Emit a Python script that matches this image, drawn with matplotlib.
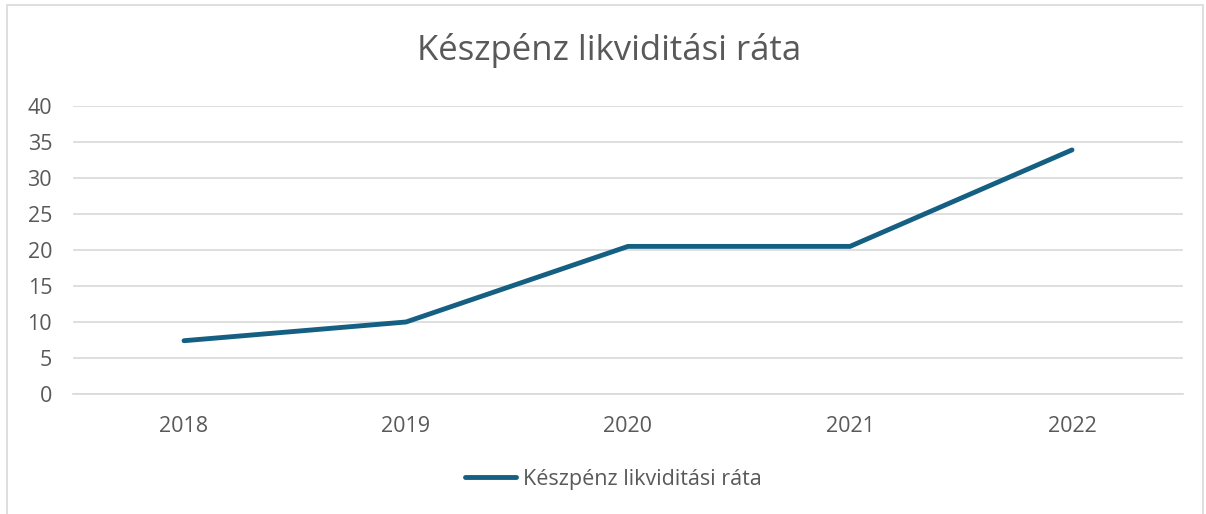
import matplotlib.pyplot as plt
from matplotlib.patches import Rectangle

years = ['2018', '2019', '2020', '2021', '2022']
ratio = [7.4, 10.0, 20.5, 20.5, 33.9]
series_name = 'Készpénz likviditási ráta'
title = 'Készpénz likviditási ráta'
y_ticks = [0, 5, 10, 15, 20, 25, 30, 35, 40]

text_color = '#595959'
grid_color = '#d9d9d9'
line_color = '#156082'

plt.rcParams['font.family'] = ['Open Sans', 'DejaVu Sans']

fig = plt.figure(figsize=(12.06, 5.14), dpi=100)
ax = fig.add_axes([73 / 1206, 1 - 394 / 514, (1183 - 73) / 1206, (394 - 106) / 514])

# chart area border
fig.patches.append(Rectangle((7 / 1206, -0.05), (1203 - 7) / 1206, 1.05 - 5 / 514,
                             transform=fig.transFigure, fill=False,
                             edgecolor=grid_color, linewidth=1.2))

x = list(range(len(years)))
ax.plot(x, ratio, color=line_color, linewidth=3.5, solid_capstyle='round',
        solid_joinstyle='round', label=series_name, zorder=3)

ax.set_xlim(-0.5, len(years) - 0.5)
ax.set_ylim(0, 40)
ax.set_yticks(y_ticks)
ax.set_xticks(x)
ax.set_xticklabels(years)
ax.grid(axis='y', color=grid_color, linewidth=1.2)
ax.set_axisbelow(True)
for s in ['top', 'right', 'left']:
    ax.spines[s].set_visible(False)
ax.spines['bottom'].set_color(grid_color)
ax.spines['bottom'].set_linewidth(1.2)
ax.tick_params(length=0, colors=text_color, labelsize=15.5)
ax.tick_params(axis='x', pad=16)
ax.tick_params(axis='y', pad=15)

fig.text(609 / 1206, 1 - 50 / 514, title, ha='center', va='center',
         fontsize=25, color=text_color)

leg = fig.legend(loc='center', bbox_to_anchor=(613 / 1206, 1 - 479 / 514),
                 frameon=False, fontsize=15.5, handlelength=2.4, handletextpad=0.3)
for t in leg.get_texts():
    t.set_color(text_color)

fig.savefig('out.png', dpi=100)
